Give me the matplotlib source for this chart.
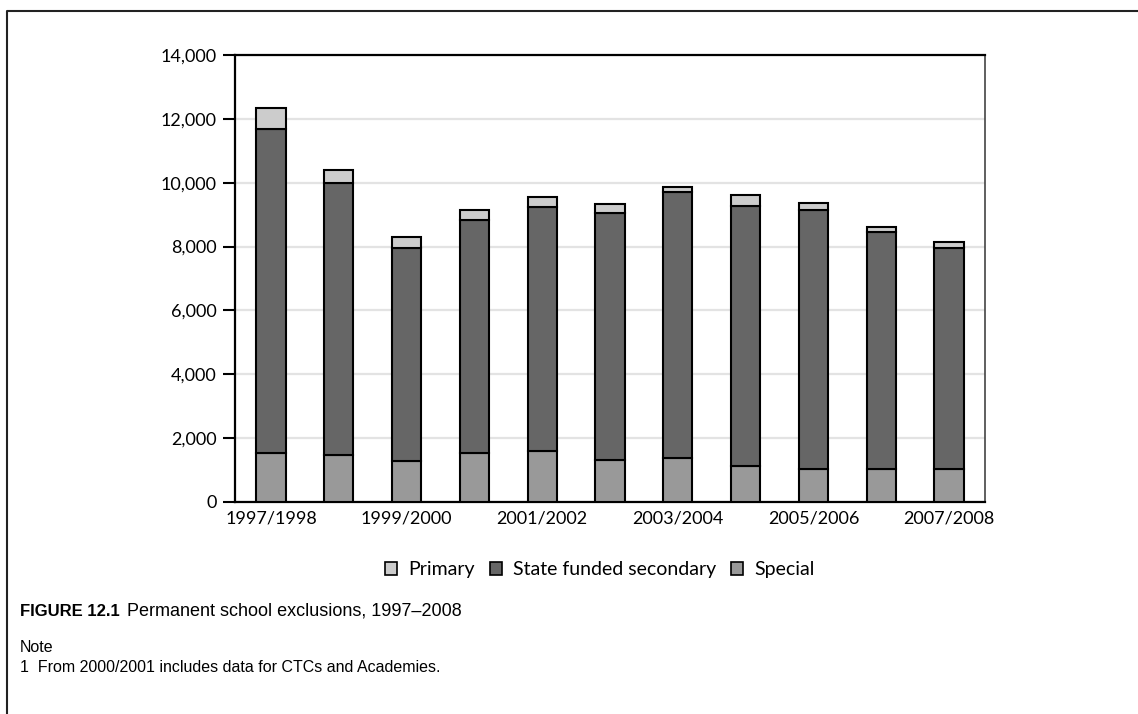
import matplotlib
matplotlib.use("Agg")
import matplotlib.pyplot as plt
from matplotlib import font_manager
from matplotlib.lines import Line2D
from matplotlib.patches import Patch
import numpy as np

# Permanent school exclusions by school type
years = ["1997/1998", "1998/1999", "1999/2000", "2000/2001", "2001/2002",
         "2002/2003", "2003/2004", "2004/2005", "2005/2006", "2006/2007",
         "2007/2008"]
special = [1550, 1470, 1290, 1520, 1600, 1300, 1370, 1130, 1030, 1030, 1030]
secondary = [10120, 8510, 6660, 7310, 7630, 7740, 8330, 8140, 8120, 7420, 6930]
primary = [660, 420, 360, 320, 330, 280, 170, 350, 220, 160, 190]

series_names = ["Primary", "State funded secondary", "Special"]
series_colors = {"Primary": "#cccccc",
                 "State funded secondary": "#666666",
                 "Special": "#999999"}

y_ticks = [0, 2000, 4000, 6000, 8000, 10000, 12000, 14000]

available = {f.name for f in font_manager.fontManager.ttflist}
chart_font = "Lato" if "Lato" in available else "DejaVu Sans"
caption_font = ("Liberation Sans Narrow" if "Liberation Sans Narrow" in available
                else "Liberation Sans")

plt.rcParams["font.family"] = chart_font

fig = plt.figure(figsize=(11.38, 7.14), dpi=100)
ax = fig.add_axes([235 / 1138, 1 - 502 / 714, 750 / 1138, 447 / 714])

x = np.arange(len(years))
width = 0.43
edge = dict(edgecolor="black", linewidth=1.5, zorder=3)

ax.bar(x, special, width, color=series_colors["Special"], **edge)
ax.bar(x, secondary, width, bottom=special,
       color=series_colors["State funded secondary"], **edge)
base = np.array(special) + np.array(secondary)
ax.bar(x, primary, width, bottom=base, color=series_colors["Primary"], **edge)

ax.set_xlim(-0.53, 10.53)
ax.set_ylim(0, 14000)
ax.set_yticks(y_ticks)
ax.set_yticklabels([f"{v:,}" for v in y_ticks], fontsize=13)
ax.set_xticks(x[::2])
ax.set_xticklabels(years[::2], fontsize=13)
ax.tick_params(axis="x", length=0, pad=6)
ax.tick_params(axis="y", length=9, width=1.5, pad=4, direction="out")

ax.yaxis.grid(True, color="#e3e3e3", linewidth=1.6, zorder=0)
ax.set_axisbelow(True)

for side in ("left", "bottom", "top"):
    ax.spines[side].set_color("black")
    ax.spines[side].set_linewidth(1.6)
ax.spines["right"].set_color("#444444")
ax.spines["right"].set_linewidth(1.2)

handles = [Patch(facecolor=series_colors[n], edgecolor="black", linewidth=1.2)
           for n in series_names]
fig.legend(handles, series_names, loc="center", ncol=3, frameon=False,
           bbox_to_anchor=(600 / 1138, 1 - 570 / 714), fontsize=14,
           handlelength=0.62, handleheight=0.62, handletextpad=0.6,
           columnspacing=0.75)

# Caption and note
cap_y = 1 - 611 / 714
label = fig.text(20 / 1138, cap_y, "FIGURE 12.1", family=caption_font,
                 fontweight="bold", fontsize=12, va="center", ha="left")
fig.canvas.draw()
label_end = label.get_window_extent().x1 / fig.bbox.width
fig.text(label_end + 7 / 1138, cap_y, "Permanent school exclusions, 1997\u20132008",
         family=caption_font, fontsize=13, va="center", ha="left")
fig.text(20 / 1138, 1 - 648 / 714, "Note", family=caption_font, fontsize=11.5,
         va="center", ha="left")
fig.text(20 / 1138, 1 - 667 / 714,
         "1  From 2000/2001 includes data for CTCs and Academies.",
         family=caption_font, fontsize=11.5, va="center", ha="left")

# Page frame along the left and top edges
frame_y = 1 - 11 / 714
frame_x = 7 / 1138
fig.add_artist(Line2D([frame_x, frame_x, 1.0], [0.0, frame_y, frame_y],
                      transform=fig.transFigure, color="#222222",
                      linewidth=1.5))

fig.savefig("out.png", dpi=100, facecolor="white")
